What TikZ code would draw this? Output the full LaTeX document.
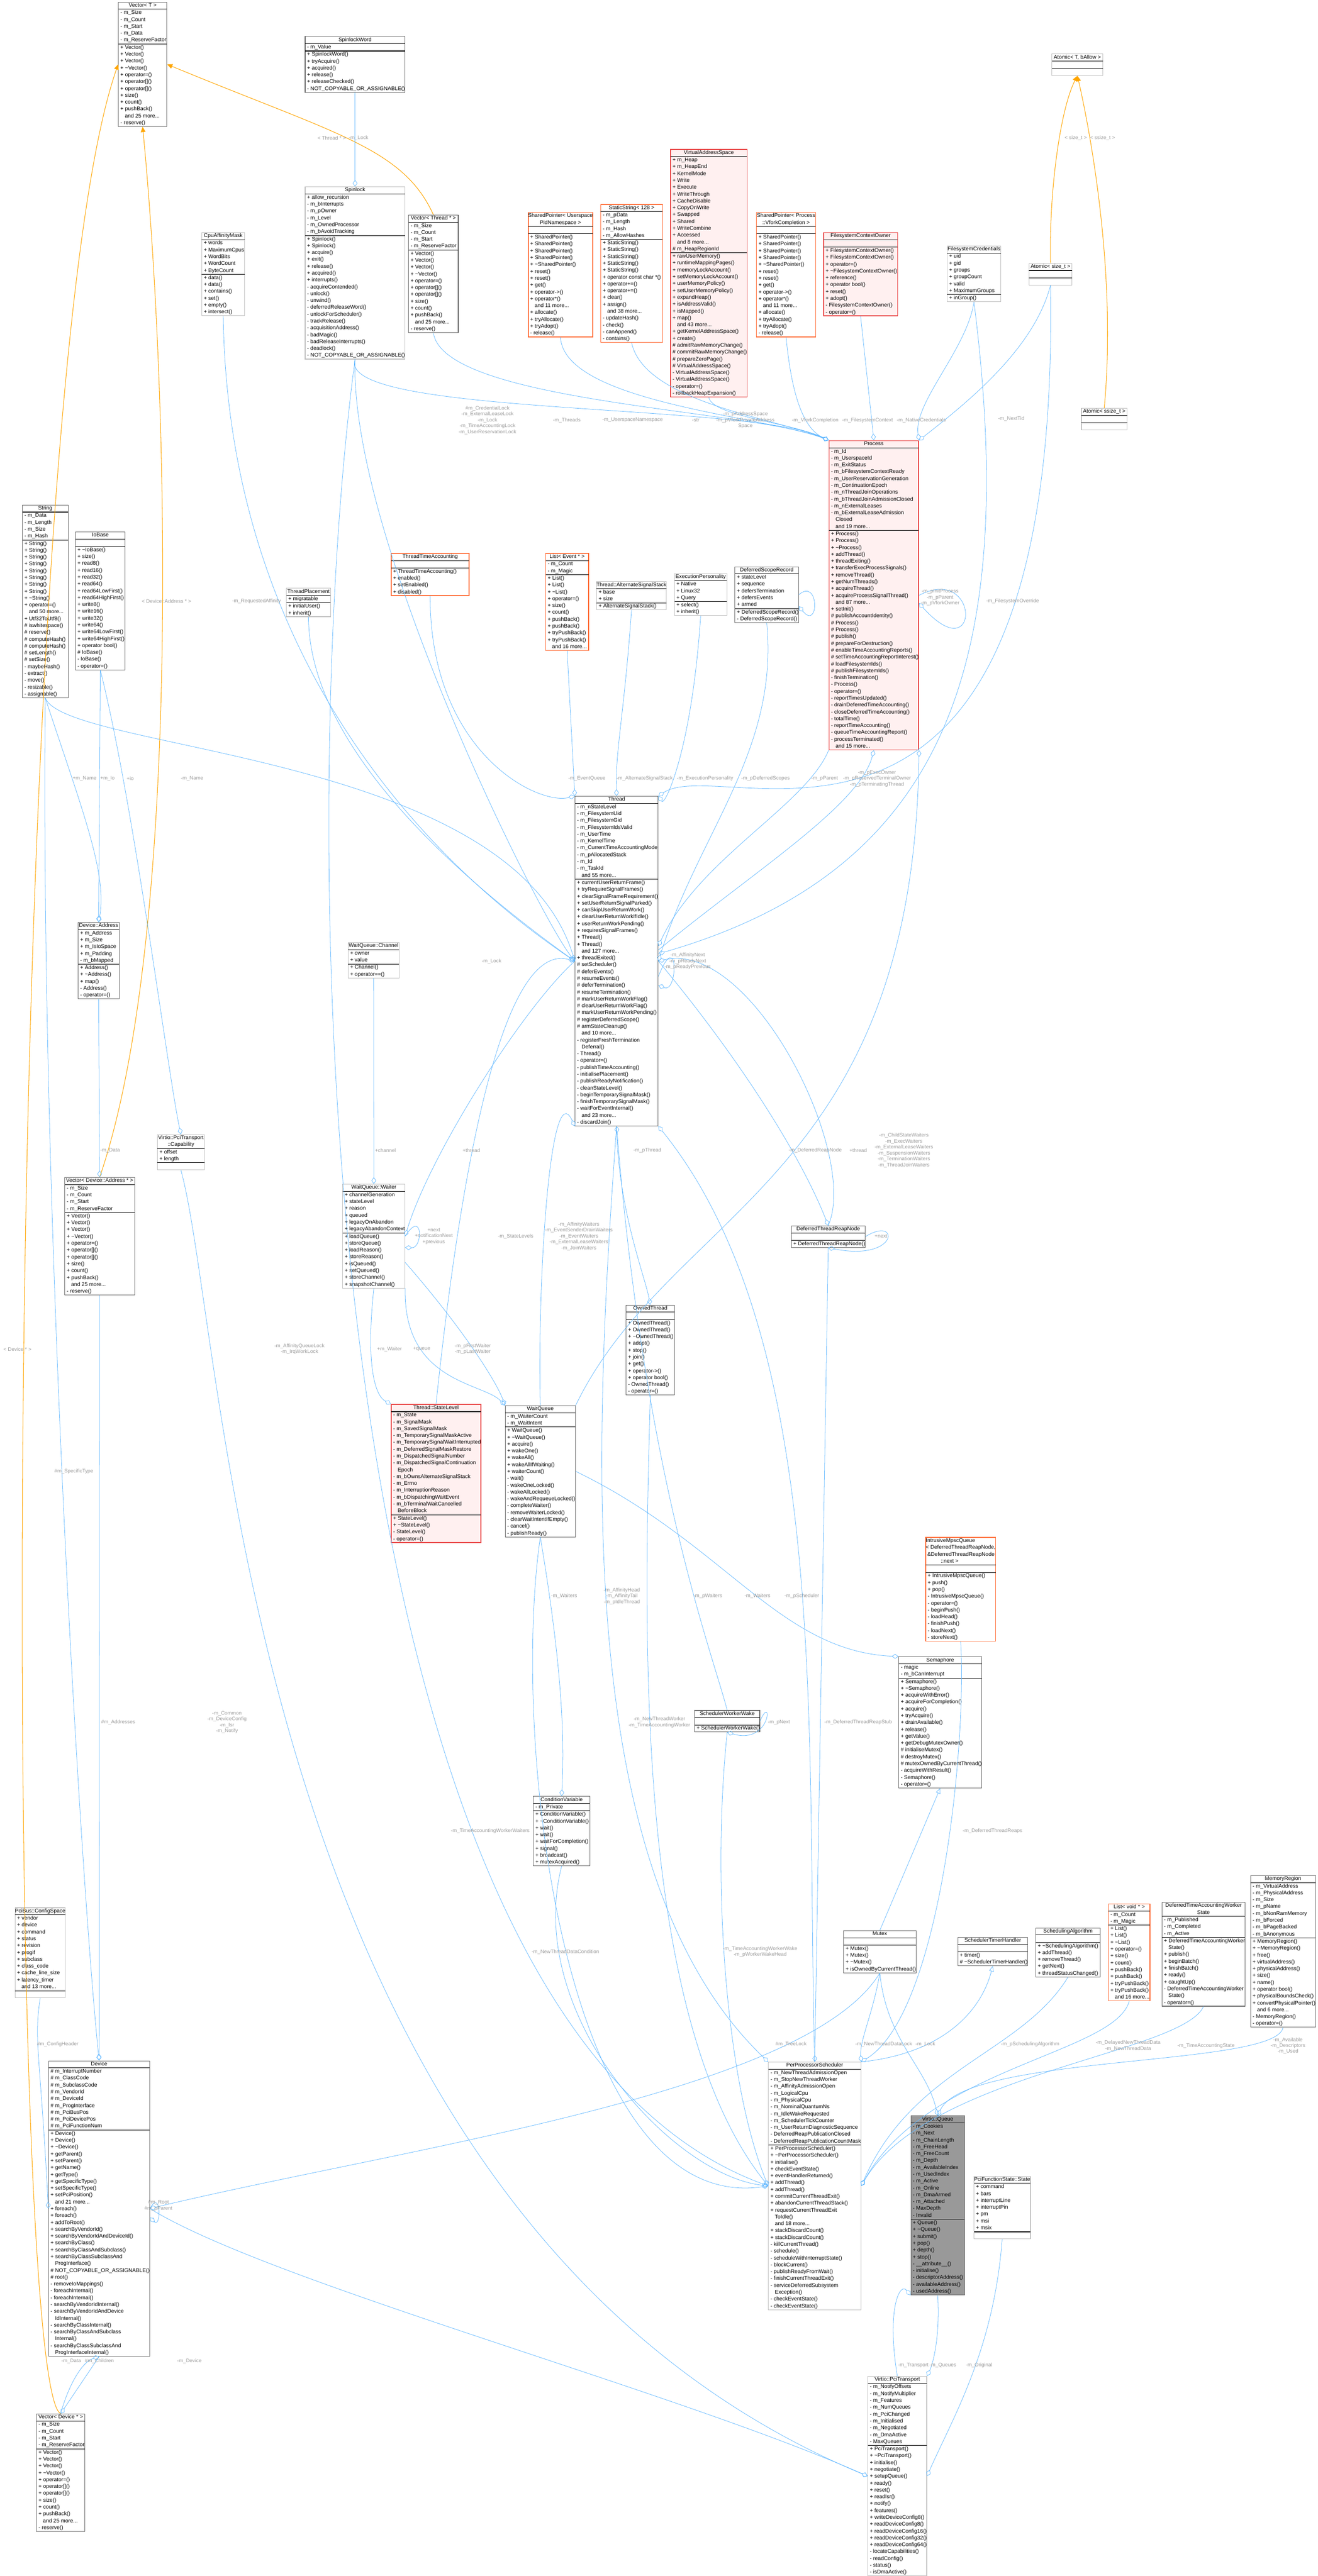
\documentclass[tikz,border=0pt]{standalone}
\usepackage{fontspec}
\setmainfont{Liberation Sans}
\usetikzlibrary{arrows.meta}
\definecolor{eb}{HTML}{63B8FF}
\definecolor{eo}{HTML}{FFA500}
\definecolor{lg}{HTML}{9A9A9A}
\definecolor{bd}{HTML}{666666}
\definecolor{lbd}{HTML}{BFBFBF}
\definecolor{rbd}{HTML}{E84040}
\definecolor{rfill}{HTML}{FFF0F0}
\definecolor{obd}{HTML}{FF6A33}
\definecolor{gfill}{HTML}{999999}
\newcommand\dt{\textasciitilde}
\newcommand\cls[7]{\node[#2,anchor=north west] (#1) at (#3) {\begin{tabular}{@{\hspace{1.5pt}}l@{}}\multicolumn{1}{@{}c@{}}{\makebox[#4pt]{#5}}\\\hline #6\\\hline #7\\\end{tabular}};}
\newcommand\twol[2]{\begin{tabular}{@{}c@{}}#1\\#2\end{tabular}}
\begin{document}
\catcode`\_=12
\fontsize{4}{5.1}\selectfont
\begin{tikzpicture}[x=1pt,y=-1pt,
  box/.style={draw=bd,fill=white,inner sep=0pt,line width=0.4pt},
  lbox/.style={draw=lbd,fill=white,inner sep=0pt,line width=0.4pt},
  rbox/.style={draw=rbd,fill=rfill,inner sep=0pt,line width=0.6pt},
  obox/.style={draw=obd,fill=white,inner sep=0pt,line width=0.6pt},
  gbox/.style={draw=bd,fill=gfill,inner sep=0pt,line width=0.4pt},
  agg/.style={draw=eb,line width=0.3pt,-{Diamond[open,length=5pt,width=3.5pt]}},
  inh/.style={draw=eo,line width=0.4pt,-{Triangle[fill=eo,length=4pt,width=3.5pt]}},
  binh/.style={draw=eb,line width=0.3pt,-{Triangle[open,fill=white,length=4pt,width=3.5pt]}},
  lbl/.style={text=lg,font=\fontsize{3.8}{4.4}\selectfont,align=center,inner sep=0.5pt}]
\useasboundingbox (0,0) rectangle (981,1919);
% ---------------- classes
\cls{VectorT}{box}{88,1.4}{36}{Vector< T >}{- m_Size\\- m_Count\\- m_Start\\- m_Data\\- m_ReserveFactor}{+ Vector()\\+ Vector()\\+ Vector()\\+ \dt Vector()\\+ operator=()\\+ operator[]()\\+ operator[]()\\+ size()\\+ count()\\+ pushBack()\\\ \ \ and 25 more...\\- reserve()}
\cls{SpinlockWord}{box}{227,27}{65}{SpinlockWord}{- m_Value}{+ SpinlockWord()\\+ tryAcquire()\\+ acquired()\\+ release()\\+ releaseChecked()\\- NOT_COPYABLE_OR_ASSIGNABLE()}
\cls{Spinlock}{lbox}{227,139}{65}{Spinlock}{+ allow_recursion\\- m_bInterrupts\\- m_pOwner\\- m_Level\\- m_OwnedProcessor\\- m_bAvoidTracking}{+ Spinlock()\\+ Spinlock()\\+ acquire()\\+ exit()\\+ release()\\+ acquired()\\+ interrupts()\\- acquireContended()\\- unlock()\\- unwind()\\- deferredReleaseWord()\\- unlockForScheduler()\\- trackRelease()\\- acquisitionAddress()\\- badMagic()\\- badReleaseInterrupts()\\- deadlock()\\- NOT_COPYABLE_OR_ASSIGNABLE()}
\cls{CpuAffinityMask}{lbox}{150,173}{32}{CpuAffinityMask}{+ words\\+ MaximumCpus\\+ WordBits\\+ WordCount\\+ ByteCount}{+ data()\\+ data()\\+ contains()\\+ set()\\+ empty()\\+ intersect()}
\cls{VecThread}{box}{304,160}{37}{Vector< Thread * >}{- m_Size\\- m_Count\\- m_Start\\- m_ReserveFactor}{+ Vector()\\+ Vector()\\+ Vector()\\+ \dt Vector()\\+ operator=()\\+ operator[]()\\+ operator[]()\\+ size()\\+ count()\\+ pushBack()\\\ \ \ and 25 more...\\- reserve()}
\cls{SPupn}{obox}{393,158}{48}{\twol{SharedPointer< Userspace}{PidNamespace >}}{}{+ SharedPointer()\\+ SharedPointer()\\+ SharedPointer()\\+ SharedPointer()\\+ \dt SharedPointer()\\+ reset()\\+ reset()\\+ get()\\+ operator->()\\+ operator*()\\\ \ \ and 11 more...\\+ allocate()\\+ tryAllocate()\\+ tryAdopt()\\- release()}
\cls{StaticStr}{obox}{447,152}{46}{StaticString< 128 >}{- m_pData\\- m_Length\\- m_Hash\\- m_AllowHashes}{+ StaticString()\\+ StaticString()\\+ StaticString()\\+ StaticString()\\+ StaticString()\\+ operator const char *()\\+ operator+=()\\+ operator+=()\\+ clear()\\+ assign()\\\ \ \ and 38 more...\\- updateHash()\\- check()\\- canAppend()\\- contains()}
\cls{VAS}{rbox}{499,111}{57}{VirtualAddressSpace}{+ m_Heap\\+ m_HeapEnd\\+ KernelMode\\+ Write\\+ Execute\\+ WriteThrough\\+ CacheDisable\\+ CopyOnWrite\\+ Swapped\\+ Shared\\+ WriteCombine\\+ Accessed\\\ \ \ and 8 more...\\\# m_HeapRegionId}{+ rawUserMemory()\\+ runtimeMappingPages()\\+ memoryLockAccount()\\+ setMemoryLockAccount()\\+ userMemoryPolicy()\\+ setUserMemoryPolicy()\\+ expandHeap()\\+ isAddressValid()\\+ isMapped()\\+ map()\\\ \ \ and 43 more...\\+ getKernelAddressSpace()\\+ create()\\\# admitRawMemoryChange()\\\# commitRawMemoryChange()\\\# prepareZeroPage()\\\# VirtualAddressSpace()\\- VirtualAddressSpace()\\- VirtualAddressSpace()\\- operator=()\\- rollbackHeapExpansion()}
\cls{SPvfork}{obox}{563,158}{44}{\twol{SharedPointer< Process}{::VforkCompletion >}}{}{+ SharedPointer()\\+ SharedPointer()\\+ SharedPointer()\\+ SharedPointer()\\+ \dt SharedPointer()\\+ reset()\\+ reset()\\+ get()\\+ operator->()\\+ operator*()\\\ \ \ and 11 more...\\+ allocate()\\+ tryAllocate()\\+ tryAdopt()\\- release()}
\cls{FSCO}{rbox}{613,173}{55}{FilesystemContextOwner}{}{+ FilesystemContextOwner()\\+ FilesystemContextOwner()\\+ operator=()\\+ \dt FilesystemContextOwner()\\+ reference()\\+ operator bool()\\+ reset()\\+ adopt()\\- FilesystemContextOwner()\\- operator=()}
\cls{FSCred}{lbox}{705,183}{40}{FilesystemCredentials}{+ uid\\+ gid\\+ groups\\+ groupCount\\+ valid\\+ MaximumGroups}{+ inGroup()}
\cls{AtomicT}{lbox}{783,40}{38}{Atomic< T, bAllow >}{}{}
\cls{AtomicSize}{lbox}{766,196}{32}{Atomic< size_t >}{}{}
\cls{AtomicSSize}{lbox}{805,304}{34}{Atomic< ssize_t >}{}{}
\cls{Process}{rbox}{617,328}{66}{Process}{- m_Id\\- m_UserspaceId\\- m_ExitStatus\\- m_bFilesystemContextReady\\- m_UserReservationGeneration\\- m_ContinuationEpoch\\- m_nThreadJoinOperations\\- m_bThreadJoinAdmissionClosed\\- m_nExternalLeases\\- m_bExternalLeaseAdmission\\\ \ \ Closed\\\ \ \ and 19 more...}{+ Process()\\+ Process()\\+ \dt Process()\\+ addThread()\\+ threadExiting()\\+ transferExecProcessSignals()\\+ removeThread()\\+ getNumThreads()\\+ acquireThread()\\+ acquireProcessSignalThread()\\\ \ \ and 87 more...\\+ setInit()\\\# publishAccountIdentity()\\\# Process()\\\# Process()\\\# publish()\\\# prepareForDestruction()\\\# enableTimeAccountingReports()\\\# setTimeAccountingReportInterest()\\\# loadFilesystemIds()\\\# publishFilesystemIds()\\- finishTermination()\\- Process()\\- operator=()\\- reportTimesUpdated()\\- drainDeferredTimeAccounting()\\- closeDeferredTimeAccounting()\\- totalTime()\\- reportTimeAccounting()\\- queueTimeAccountingReport()\\- processTerminated()\\\ \ \ and 15 more...}
\cls{String}{box}{16.5,376}{34}{String}{- m_Data\\- m_Length\\- m_Size\\- m_Hash}{+ String()\\+ String()\\+ String()\\+ String()\\+ String()\\+ String()\\+ String()\\+ String()\\+ \dt String()\\+ operator=()\\\ \ \ and 50 more...\\+ Utf32ToUtf8()\\\# iswhitespace()\\\# reserve()\\\# computeHash()\\\# computeHash()\\\# setLength()\\\# setSize()\\- maybeHash()\\- extract()\\- move()\\- resizable()\\- assignable()}
\cls{IoBase}{box}{56,396}{37}{IoBase}{}{+ \dt IoBase()\\+ size()\\+ read8()\\+ read16()\\+ read32()\\+ read64()\\+ read64LowFirst()\\+ read64HighFirst()\\+ write8()\\+ write16()\\+ write32()\\+ write64()\\+ write64LowFirst()\\+ write64HighFirst()\\+ operator bool()\\\# IoBase()\\- IoBase()\\- operator=()}
\cls{ThreadPlacement}{lbox}{213,438}{33}{ThreadPlacement}{+ migratable}{+ initialUser()\\+ inherit()}
\cls{TTA}{obox}{291,412}{58}{ThreadTimeAccounting}{}{+ ThreadTimeAccounting()\\+ enabled()\\+ setEnabled()\\+ disabled()}
\cls{ListEvent}{obox}{406,412}{32}{List< Event * >}{- m_Count\\- m_Magic}{+ List()\\+ List()\\+ \dt List()\\+ operator=()\\+ size()\\+ count()\\+ pushBack()\\+ pushBack()\\+ tryPushBack()\\+ tryPushBack()\\\ \ \ and 16 more...}
\cls{AltStack}{lbox}{444,433}{52}{Thread::AlternateSignalStack}{+ base\\+ size}{+ AlternateSignalStack()}
\cls{ExecPers}{lbox}{502,427}{39}{ExecutionPersonality}{+ Native\\+ Linux32\\+ Query}{+ select()\\+ inherit()}
\cls{DSR}{box}{547,422}{46}{DeferredScopeRecord}{+ stateLevel\\+ sequence\\+ defersTermination\\+ defersEvents\\+ armed}{+ DeferredScopeRecord()\\- DeferredScopeRecord()}
\cls{Thread}{box}{428,593}{60}{Thread}{- m_nStateLevel\\- m_FilesystemUid\\- m_FilesystemGid\\- m_FilesystemIdsValid\\- m_UserTime\\- m_KernelTime\\- m_CurrentTimeAccountingMode\\- m_pAllocatedStack\\- m_Id\\- m_TaskId\\\ \ \ and 55 more...}{+ currentUserReturnFrame()\\+ tryRequireSignalFrames()\\+ clearSignalFrameRequirement()\\+ setUserReturnSignalParked()\\+ canSkipUserReturnWork()\\+ clearUserReturnWorkIfIdle()\\+ userReturnWorkPending()\\+ requiresSignalFrames()\\+ Thread()\\+ Thread()\\\ \ \ and 127 more...\\+ threadExited()\\\# setScheduler()\\\# deferEvents()\\\# resumeEvents()\\\# deferTermination()\\\# resumeTermination()\\\# markUserReturnWorkFlag()\\\# clearUserReturnWorkFlag()\\\# markUserReturnWorkPending()\\\# registerDeferredScope()\\\# armStateCleanup()\\\ \ \ and 10 more...\\- registerFreshTermination\\\ \ \ Deferral()\\- Thread()\\- operator=()\\- publishTimeAccounting()\\- initialisePlacement()\\- publishReadyNotification()\\- cleanStateLevel()\\- beginTemporarySignalMask()\\- finishTemporarySignalMask()\\- waitForEventInternal()\\\ \ \ and 23 more...\\- discardJoin()}
\cls{DevAddr}{box}{58,687}{30.5}{Device::Address}{+ m_Address\\+ m_Size\\+ m_IsIoSpace\\+ m_Padding\\- m_bMapped}{+ Address()\\+ \dt Address()\\+ map()\\- Address()\\- operator=()}
\cls{WQChannel}{lbox}{259,702}{38}{WaitQueue::Channel}{+ owner\\+ value}{+ Channel()\\+ operator==()}
\cls{Capability}{lbox}{117,845}{35}{\twol{Virtio::PciTransport}{::Capability}}{+ offset\\+ length}{}
\cls{VecDA}{box}{48,877}{52}{Vector< Device::Address * >}{- m_Size\\- m_Count\\- m_Start\\- m_ReserveFactor}{+ Vector()\\+ Vector()\\+ Vector()\\+ \dt Vector()\\+ operator=()\\+ operator[]()\\+ operator[]()\\+ size()\\+ count()\\+ pushBack()\\\ \ \ and 25 more...\\- reserve()}
\cls{WQWaiter}{lbox}{255,882}{46}{WaitQueue::Waiter}{+ channelGeneration\\+ stateLevel\\+ reason\\+ queued\\+ legacyOnAbandon\\+ legacyAbandonContext}{+ loadQueue()\\+ storeQueue()\\+ loadReason()\\+ storeReason()\\+ isQueued()\\+ setQueued()\\+ storeChannel()\\+ snapshotChannel()}
\cls{DTRN}{box}{589,913}{53}{DeferredThreadReapNode}{}{+ DeferredThreadReapNode()}
\cls{OwnedThread}{box}{466,972}{36}{OwnedThread}{}{+ OwnedThread()\\+ OwnedThread()\\+ \dt OwnedThread()\\+ adopt()\\+ stop()\\+ join()\\+ get()\\+ operator->()\\+ operator bool()\\- OwnedThread()\\- operator=()}
\cls{StateLevel}{rbox}{291,1046}{66}{Thread::StateLevel}{- m_State\\- m_SignalMask\\- m_SavedSignalMask\\- m_TemporarySignalMaskActive\\- m_TemporarySignalWaitInterrupted\\- m_DeferredSignalMaskRestore\\- m_DispatchedSignalNumber\\- m_DispatchedSignalContinuation\\\ \ \ Epoch\\- m_bOwnsAlternateSignalStack\\- m_Errno\\- m_InterruptionReason\\- m_bDispatchingWaitEvent\\- m_bTerminalWaitCancelled\\\ \ \ BeforeBlock}{+ StateLevel()\\+ \dt StateLevel()\\- StateLevel()\\- operator=()}
\cls{WaitQueue}{box}{376,1047}{51}{WaitQueue}{- m_WaiterCount\\- m_WaitIntent}{+ WaitQueue()\\+ \dt WaitQueue()\\+ acquire()\\+ wakeOne()\\+ wakeAll()\\+ wakeAllIfWaiting()\\+ waiterCount()\\- wait()\\- wakeOneLocked()\\- wakeAllLocked()\\- wakeAndRequeueLocked()\\- completeWaiter()\\- removeWaiterLocked()\\- clearWaitIntentIfEmpty()\\- cancel()\\- publishReady()}
\cls{IMQ}{obox}{689,1145}{52}{\begin{tabular}{@{}l@{}}IntrusiveMpscQueue\\< DeferredThreadReapNode,\\\ \&DeferredThreadReapNode\\\ \ \ \ \ \ \ \ \ \ ::next >\end{tabular}}{}{+ IntrusiveMpscQueue()\\+ push()\\+ pop()\\- IntrusiveMpscQueue()\\- operator=()\\- beginPush()\\- loadHead()\\- finishPush()\\- loadNext()\\- storeNext()}
\cls{Semaphore}{box}{669,1234}{61}{Semaphore}{- magic\\- m_bCanInterrupt}{+ Semaphore()\\+ \dt Semaphore()\\+ acquireWithError()\\+ acquireForCompletion()\\+ acquire()\\+ tryAcquire()\\+ drainAvailable()\\+ release()\\+ getValue()\\+ getDebugMutexOwner()\\\# initialiseMutex()\\\# destroyMutex()\\\# mutexOwnedByCurrentThread()\\- acquireWithResult()\\- Semaphore()\\- operator=()}
\cls{SWW}{box}{517,1274}{47}{SchedulerWorkerWake}{}{+ SchedulerWorkerWake()}
\cls{CV}{box}{397,1338}{42}{ConditionVariable}{- m_Private}{+ ConditionVariable()\\+ \dt ConditionVariable()\\+ wait()\\+ wait()\\+ waitForCompletion()\\+ signal()\\+ broadcast()\\+ mutexAcquired()}
\cls{MemRegion}{box}{931,1397}{48}{MemoryRegion}{- m_VirtualAddress\\- m_PhysicalAddress\\- m_Size\\- m_pName\\- m_bNonRamMemory\\- m_bForced\\- m_bPageBacked\\- m_bAnonymous}{+ MemoryRegion()\\+ \dt MemoryRegion()\\+ free()\\+ virtualAddress()\\+ physicalAddress()\\+ size()\\+ name()\\+ operator bool()\\+ physicalBoundsCheck()\\+ convertPhysicalPointer()\\\ \ \ and 6 more...\\- MemoryRegion()\\- operator=()}
\cls{ListVoid}{obox}{825,1418}{31}{List< void * >}{- m_Count\\- m_Magic}{+ List()\\+ List()\\+ \dt List()\\+ operator=()\\+ size()\\+ count()\\+ pushBack()\\+ pushBack()\\+ tryPushBack()\\+ tryPushBack()\\\ \ \ and 16 more...}
\cls{DTAWS}{box}{865,1417}{60}{\twol{DeferredTimeAccountingWorker}{State}}{- m_Published\\- m_Completed\\- m_Active}{+ DeferredTimeAccountingWorker\\\ \ \ State()\\+ publish()\\+ beginBatch()\\+ finishBatch()\\+ ready()\\+ caughtUp()\\- DeferredTimeAccountingWorker\\\ \ \ State()\\- operator=()}
\cls{PciConfig}{lbox}{11,1421}{37.5}{PciBus::ConfigSpace}{+ vendor\\+ device\\+ command\\+ status\\+ revision\\+ progif\\+ subclass\\+ class_code\\+ cache_line_size\\+ latency_timer\\\ \ \ and 13 more...}{}
\cls{SchedAlg}{box}{771,1436}{48}{SchedulingAlgorithm}{}{+ \dt SchedulingAlgorithm()\\+ addThread()\\+ removeThread()\\+ getNext()\\+ threadStatusChanged()}
\cls{Mutex}{box}{628,1438}{53}{Mutex}{}{+ Mutex()\\+ Mutex()\\+ \dt Mutex()\\+ isOwnedByCurrentThread()}
\cls{STH}{box}{713,1443}{52}{SchedulerTimerHandler}{}{+ timer()\\\# \dt SchedulerTimerHandler()}
\cls{Device}{box}{36,1535}{65.6}{Device}{\# m_InterruptNumber\\\# m_ClassCode\\\# m_SubclassCode\\\# m_VendorId\\\# m_DeviceId\\\# m_ProgInterface\\\# m_PciBusPos\\\# m_PciDevicePos\\\# m_PciFunctionNum}{+ Device()\\+ Device()\\+ \dt Device()\\+ getParent()\\+ setParent()\\+ getName()\\+ getType()\\+ getSpecificType()\\+ setSpecificType()\\+ setPciPosition()\\\ \ \ and 21 more...\\+ foreach()\\+ foreach()\\+ addToRoot()\\+ searchByVendorId()\\+ searchByVendorIdAndDeviceId()\\+ searchByClass()\\+ searchByClassAndSubclass()\\+ searchByClassSubclassAnd\\\ \ \ ProgInterface()\\\# NOT_COPYABLE_OR_ASSIGNABLE()\\\# root()\\- removeIoMappings()\\- foreachInternal()\\- foreachInternal()\\- searchByVendorIdInternal()\\- searchByVendorIdAndDevice\\\ \ \ IdInternal()\\- searchByClassInternal()\\- searchByClassAndSubclass\\\ \ \ Internal()\\- searchByClassSubclassAnd\\\ \ \ ProgInterfaceInternal()}
\cls{PPS}{lbox}{572,1536}{68}{PerProcessorScheduler}{- m_NewThreadAdmissionOpen\\- m_StopNewThreadWorker\\- m_AffinityAdmissionOpen\\- m_LogicalCpu\\- m_PhysicalCpu\\- m_NominalQuantumNs\\- m_IdleWakeRequested\\- m_SchedulerTickCounter\\- m_UserReturnDiagnosticSequence\\- DeferredReapPublicationClosed\\- DeferredReapPublicationCountMask}{+ PerProcessorScheduler()\\+ \dt PerProcessorScheduler()\\+ initialise()\\+ checkEventState()\\+ eventHandlerReturned()\\+ addThread()\\+ addThread()\\+ commitCurrentThreadExit()\\+ abandonCurrentThreadStack()\\+ requestCurrentThreadExit\\\ \ \ ToIdle()\\\ \ \ and 18 more...\\+ stackDiscardCount()\\+ stackDiscardCount()\\- killCurrentThread()\\- schedule()\\- scheduleWithInterruptState()\\- blockCurrent()\\- publishReadyFromWait()\\- finishCurrentThreadExit()\\- serviceDeferredSubsystem\\\ \ \ Exception()\\- checkEventState()\\- checkEventState()}
\cls{VQueue}{gbox}{678,1576}{40}{Virtio::Queue}{- m_Cookies\\- m_Next\\- m_ChainLength\\- m_FreeHead\\- m_FreeCount\\- m_Depth\\- m_AvailableIndex\\- m_UsedIndex\\- m_Active\\- m_Online\\- m_DmaArmed\\- m_Attached\\- MaxDepth\\- Invalid}{+ Queue()\\+ \dt Queue()\\+ submit()\\+ pop()\\+ depth()\\+ stop()\\- __attribute__()\\- initialise()\\- descriptorAddress()\\- availableAddress()\\- usedAddress()}
\cls{PciFS}{lbox}{725,1621}{42}{PciFunctionState::State}{+ command\\+ bars\\+ interruptLine\\+ interruptPin\\+ pm\\+ msi\\+ msix}{}
\cls{PciTr}{lbox}{646,1770}{43}{Virtio::PciTransport}{- m_NotifyOffsets\\- m_NotifyMultiplier\\- m_Features\\- m_NumQueues\\- m_PciChanged\\- m_Initialised\\- m_Negotiated\\- m_DmaActive\\- MaxQueues}{+ PciTransport()\\+ \dt PciTransport()\\+ initialise()\\+ negotiate()\\+ setupQueue()\\+ ready()\\+ reset()\\+ readIsr()\\+ notify()\\+ features()\\+ writeDeviceConfig8()\\+ readDeviceConfig8()\\+ readDeviceConfig16()\\+ readDeviceConfig32()\\+ readDeviceConfig64()\\- locateCapabilities()\\- readConfig()\\- status()\\- isDmaActive()}
\cls{VecDevice}{box}{27,1798}{36}{Vector< Device * >}{- m_Size\\- m_Count\\- m_Start\\- m_ReserveFactor}{+ Vector()\\+ Vector()\\+ Vector()\\+ \dt Vector()\\+ operator=()\\+ operator[]()\\+ operator[]()\\+ size()\\+ count()\\+ pushBack()\\\ \ \ and 25 more...\\- reserve()}
% ---------------- inheritance
\draw[inh] (VecThread.north) .. controls (300,110) and (250,100) .. (VectorT.east);
\draw[inh] (VecDA.north) .. controls (135,700) and (126,300) .. (VectorT.south);
\draw[inh] (VecDevice.north) .. controls (3,1780) and (0,300) .. (VectorT.west);
\draw[inh] (AtomicSize.north) .. controls (781,140) and (790,80) .. (AtomicT.south);
\draw[inh] (AtomicSSize.north) .. controls (832,200) and (810,90) .. (AtomicT.south);
\draw[binh] (Mutex.north) -- (Semaphore.south);
\draw[binh] (PPS.north east) .. controls (700,1530) and (730,1500) .. (STH.south);
% ---------------- aggregation
\draw[agg] (SpinlockWord.south) -- (Spinlock.north);
\draw[agg] (Spinlock.south) .. controls (250,310) and (560,300) .. (Process.north west);
\draw[agg] (VecThread.south) .. controls (330,300) and (560,305) .. (Process.north west);
\draw[agg] (SPupn.south) .. controls (420,300) and (570,310) .. (Process.north west);
\draw[agg] (StaticStr.south) .. controls (480,300) and (580,312) .. (Process.north west);
\draw[agg] (VAS.south) .. controls (530,310) and (590,315) .. (Process.north west);
\draw[agg] (SPvfork.south) .. controls (590,300) and (600,320) .. (Process.north west);
\draw[agg] (FSCO.south) -- (Process.north);
\draw[agg] (FSCred.south) .. controls (720,260) and (680,300) .. (Process.north east);
\draw[agg] (AtomicSize.south) .. controls (770,260) and (720,300) .. (Process.north east);
\draw[agg] (AtomicSize.south) .. controls (790,700) and (540,560) .. (Thread.north east);
\draw[agg] (Process.east) .. controls (730,420) and (730,500) .. (Process.-10);
\draw[agg] (Process.south west) .. controls (600,600) and (520,640) .. (Thread.20);
\draw[agg] (Thread.15) .. controls (560,650) and (640,600) .. (Process.south);
\draw[agg] (FSCred.south) .. controls (760,500) and (700,650) .. (Thread.10);
\draw[agg] (ListEvent.south) -- (Thread.north west);
\draw[agg] (AltStack.south) .. controls (465,530) and (458,560) .. (Thread.north);
\draw[agg] (ExecPers.south) .. controls (515,560) and (495,600) .. (Thread.north east);
\draw[agg] (DSR.south) .. controls (580,560) and (520,620) .. (Thread.east);
\draw[agg] (DSR.east) .. controls (610,430) and (610,470) .. (DSR.-20);
\draw[agg] (TTA.south) .. controls (320,560) and (400,600) .. (Thread.north west);
\draw[agg] (CpuAffinityMask.south) .. controls (170,500) and (330,650) .. (Thread.west);
\draw[agg] (ThreadPlacement.south) .. controls (230,560) and (350,660) .. (Thread.west);
\draw[agg] (String.south) .. controls (50,560) and (380,560) .. (Thread.west);
\draw[agg] (Spinlock.south) .. controls (260,400) and (400,680) .. (Thread.west);
\draw[agg] (Thread.-20) .. controls (505,690) and (505,740) .. (Thread.-30);
\draw[agg] (WQChannel.south) -- (WQWaiter.north);
\draw[agg] (Thread.west) .. controls (390,750) and (320,860) .. (WQWaiter.east);
\draw[agg] (WQWaiter.east) .. controls (315,900) and (315,930) .. (WQWaiter.-20);
\draw[agg] (WQWaiter.south) .. controls (272,1020) and (280,1040) .. (StateLevel.north west);
\draw[agg] (WQWaiter.south east) .. controls (300,1030) and (360,1030) .. (WaitQueue.north west);
\draw[agg] (WQWaiter.-40) .. controls (345,990) and (370,1030) .. (WaitQueue.north west);
\draw[agg] (StateLevel.north) .. controls (340,900) and (370,700) .. (Thread.west);
\draw[agg] (WaitQueue.north) .. controls (400,950) and (410,800) .. (Thread.south west);
\draw[agg] (Thread.south) .. controls (460,900) and (480,950) .. (OwnedThread.north);
\draw[agg] (Thread.east) .. controls (560,800) and (600,870) .. (DTRN.north);
\draw[agg] (DTRN.north) .. controls (640,860) and (560,700) .. (Thread.east);
\draw[agg] (DTRN.east) .. controls (670,905) and (670,940) .. (DTRN.south);
\draw[agg] (WaitQueue.north east) .. controls (500,900) and (680,880) .. (Process.south east);
\draw[agg] (Spinlock.south) .. controls (220,600) and (225,1500) .. (PPS.west);
\draw[agg] (Thread.south) .. controls (440,1100) and (430,1400) .. (PPS.north west);
\draw[agg] (PPS.north) .. controls (600,1300) and (620,1000) .. (Thread.south east);
\draw[agg] (WaitQueue.south) .. controls (380,1300) and (420,1650) .. (PPS.west);
\draw[agg] (WaitQueue.east) .. controls (540,1150) and (580,1230) .. (Semaphore.north west);
\draw[agg] (WaitQueue.south) .. controls (420,1250) and (420,1300) .. (CV.north);
\draw[agg] (DTRN.south) -- (PPS.north);
\draw[agg] (IMQ.south) .. controls (720,1300) and (700,1500) .. (PPS.north east);
\draw[agg] (OwnedThread.south) .. controls (480,1200) and (470,1500) .. (PPS.west);
\draw[agg] (SWW.north) .. controls (530,1230) and (480,1100) .. (Thread.south);
\draw[agg] (SWW.east) .. controls (575,1260) and (575,1300) .. (SWW.south);
\draw[agg] (SWW.south) .. controls (530,1400) and (540,1550) .. (PPS.west);
\draw[agg] (CV.south) .. controls (390,1500) and (500,1620) .. (PPS.west);
\draw[agg] (Mutex.south) .. controls (650,1500) and (640,1520) .. (PPS.north east);
\draw[agg] (Mutex.south) .. controls (600,1560) and (300,1600) .. (Device.east);
\draw[agg] (Mutex.south) .. controls (660,1520) and (690,1540) .. (VQueue.north);
\draw[agg] (SchedAlg.south) .. controls (760,1530) and (680,1540) .. (PPS.east);
\draw[agg] (ListVoid.south) .. controls (830,1530) and (690,1540) .. (PPS.east);
\draw[agg] (DTAWS.south) .. controls (880,1530) and (690,1545) .. (PPS.east);
\draw[agg] (MemRegion.south) .. controls (950,1540) and (720,1530) .. (VQueue.north);
\draw[agg] (PciTr.north) .. controls (660,1720) and (670,1700) .. (VQueue.south west);
\draw[agg] (VQueue.south) .. controls (700,1740) and (695,1760) .. (PciTr.north east);
\draw[agg] (PciFS.south) .. controls (740,1750) and (710,1800) .. (PciTr.east);
\draw[agg] (String.south) .. controls (60,600) and (80,650) .. (DevAddr.north);
\draw[agg] (IoBase.south) -- (DevAddr.north);
\draw[agg] (IoBase.south) .. controls (100,600) and (125,800) .. (Capability.north);
\draw[agg] (DevAddr.south) -- (VecDA.north);
\draw[agg] (VecDA.south) -- (Device.north);
\draw[agg] (String.south) .. controls (30,900) and (60,1400) .. (Device.north);
\draw[agg] (PciConfig.south) .. controls (25,1520) and (30,1530) .. (Device.west);
\draw[agg] (Device.east) .. controls (120,1630) and (120,1660) .. (Device.-10);
\draw[agg] (Device.south) -- (VecDevice.north);
\draw[agg] (VecDevice.north) .. controls (50,1780) and (60,1760) .. (Device.south);
\draw[agg] (Device.east) .. controls (200,1700) and (500,1780) .. (PciTr.west);
\draw[agg] (Capability.south) .. controls (170,1000) and (180,1650) .. (PciTr.west);
% ---------------- labels
\node[lbl] (l1) at (247,103) {< Thread * >};
\node[lbl] (l2) at (267,103) {-m_Lock};
\node[lbl] (l3) at (363,313) {\#m_CredentialLock\\-m_ExternalLeaseLock\\-m_Lock\\-m_TimeAccountingLock\\-m_UserReservationLock};
\node[lbl] (l4) at (422,313) {-m_Threads};
\node[lbl] (l5) at (471,313) {-m_UserspaceNamespace};
\node[lbl] (l6) at (518,313) {-str};
\node[lbl] (l7) at (555,313) {-m_pAddressSpace\\-m_pVforkPrivateAddress\\Space};
\node[lbl] (l8) at (607,313) {-m_VforkCompletion};
\node[lbl] (l9) at (646,313) {-m_FilesystemContext};
\node[lbl] (l10) at (686,313) {-m_NativeCredentials};
\node[lbl] (l11) at (700,445) {-m_pInitProcess\\-m_pParent\\-m_pVforkOwner};
\node[lbl] (l12) at (754,448) {-m_FilesystemOverride};
\node[lbl] (l13) at (801,103) {< size_t >};
\node[lbl] (l14) at (821,103) {< ssize_t >};
\node[lbl] (l15) at (753,312) {-m_NextTid};
\node[lbl] (l16) at (437,580) {-m_EventQueue};
\node[lbl] (l17) at (480,580) {-m_AlternateSignalStack};
\node[lbl] (l18) at (525,580) {-m_ExecutionPersonality};
\node[lbl] (l19) at (570,580) {-m_pDeferredScopes};
\node[lbl] (l20) at (614,580) {-m_pParent};
\node[lbl] (l21) at (653,580) {-m_pExecOwner\\-m_pReservedTerminalOwner\\-m_pTerminatingThread};
\node[lbl] (l22) at (512,716) {-m_AffinityNext\\-m_pReadyNext\\-m_pReadyPrevious};
\node[lbl] (l23) at (366,716) {-m_Lock};
\node[lbl] (l24) at (287,857) {+channel};
\node[lbl] (l25) at (351,857) {+thread};
\node[lbl] (l26) at (482,857) {-m_pThread};
\node[lbl] (l27) at (607,857) {-m_DeferredReapNode};
\node[lbl] (l28) at (639,857) {+thread};
\node[lbl] (l29) at (673,857) {-m_ChildStateWaiters\\-m_ExecWaiters\\-m_ExternalLeaseWaiters\\-m_SuspensionWaiters\\-m_TerminationWaiters\\-m_ThreadJoinWaiters};
\node[lbl] (l30) at (323,921) {+next\\+notificationNext\\+previous};
\node[lbl] (l31) at (384,921) {-m_StateLevels};
\node[lbl] (l32) at (431,921) {-m_AffinityWaiters\\-m_EventSenderDrainWaiters\\-m_EventWaiters\\-m_ExternalLeaseWaiters\\-m_JoinWaiters};
\node[lbl] (l33) at (656,921) {+next};
\node[lbl] (l34) at (223,1005) {-m_AffinityQueueLock\\-m_IrqWorkLock};
\node[lbl] (l35) at (290,1005) {+m_Waiter};
\node[lbl] (l36) at (314,1005) {+queue};
\node[lbl] (l37) at (352,1005) {-m_pFirstWaiter\\-m_pLastWaiter};
\node[lbl] (l38) at (420,1189) {-m_Waiters};
\node[lbl] (l39) at (463,1189) {-m_AffinityHead\\-m_AffinityTail\\-m_pIdleThread};
\node[lbl] (l40) at (527,1189) {-m_pWaiters};
\node[lbl] (l41) at (564,1189) {-m_Waiters};
\node[lbl] (l42) at (597,1189) {-m_pScheduler};
\node[lbl] (l43) at (491,1283) {-m_NewThreadWorker\\-m_TimeAccountingWorker};
\node[lbl] (l44) at (580,1283) {-m_pNext};
\node[lbl] (l45) at (639,1283) {-m_DeferredThreadReapStub};
\node[lbl] (l46) at (365,1364) {-m_TimeAccountingWorkerWaiters};
\node[lbl] (l47) at (739,1364) {-m_DeferredThreadReaps};
\node[lbl] (l48) at (421,1454) {-m_NewThreadDataCondition};
\node[lbl] (l49) at (566,1454) {-m_TimeAccountingWorkerWake\\-m_pWorkerWakeHead};
\node[lbl] (l50) at (589,1523) {\#m_TreeLock};
\node[lbl] (l51) at (658,1523) {-m_NewThreadDataLock};
\node[lbl] (l52) at (689,1523) {-m_Lock};
\node[lbl] (l53) at (767,1523) {-m_pSchedulingAlgorithm};
\node[lbl] (l54) at (840,1524) {-m_DelayedNewThreadData\\-m_NewThreadData};
\node[lbl] (l55) at (898,1524) {-m_TimeAccountingState};
\node[lbl] (l56) at (959,1524) {-m_Available\\-m_Descriptors\\-m_Used};
\node[lbl] (l57) at (680,1762) {-m_Transport};
\node[lbl] (l58) at (702,1762) {-m_Queues};
\node[lbl] (l59) at (729,1762) {-m_Original};
\node[lbl] (l60) at (124,448) {< Device::Address * >};
\node[lbl] (l61) at (191,448) {-m_RequestedAffinity};
\node[lbl] (l62) at (63,580) {+m_Name};
\node[lbl] (l63) at (80,580) {+m_Io};
\node[lbl] (l64) at (97,580) {+io};
\node[lbl] (l65) at (143,580) {-m_Name};
\node[lbl] (l66) at (82,857) {-m_Data};
\node[lbl] (l67) at (13,1005) {< Device * >};
\node[lbl] (l68) at (55,1096) {\#m_SpecificType};
\node[lbl] (l69) at (88,1283) {\#m_Addresses};
\node[lbl] (l70) at (169,1283) {-m_Common\\-m_DeviceConfig\\-m_Isr\\-m_Notify};
\node[lbl] (l71) at (43,1523) {\#m_ConfigHeader};
\node[lbl] (l72) at (118,1643) {\#m_Root\\\#m_pParent};
\node[lbl] (l73) at (53,1759) {-m_Data};
\node[lbl] (l74) at (74,1759) {\#m_Children};
\node[lbl] (l75) at (141,1759) {-m_Device};
\end{tikzpicture}
\end{document}
